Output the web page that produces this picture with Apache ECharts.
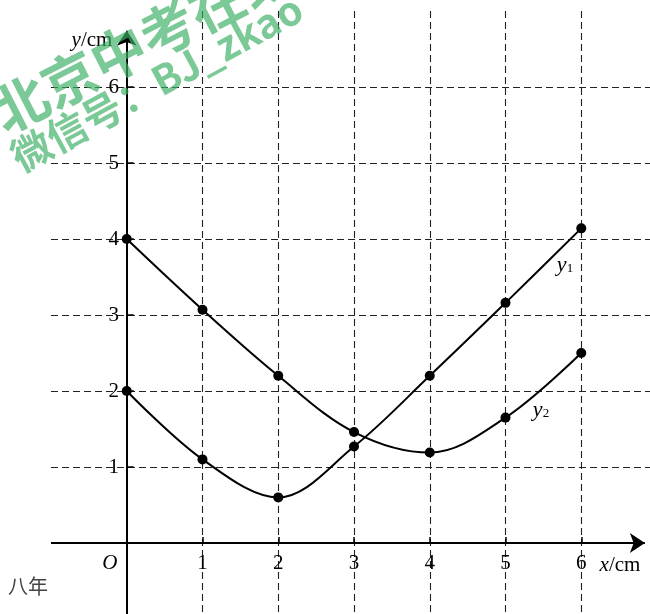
<!DOCTYPE html>
<html>
<head>
<meta charset="utf-8">
<script src="https://cdn.jsdelivr.net/npm/echarts@6/dist/echarts.min.js"></script>
<style>
html,body{margin:0;padding:0;background:#fff;}
#chart{width:650px;height:614px;}
</style>
</head>
<body>
<div id="chart"></div>
<script>
// ---- data ----
const xValues = [0, 1, 2, 3, 4, 5, 6];
const y1Values = [2, 1.1, 0.6, 1.27, 2.2, 3.16, 4.14];
const y2Values = [4, 3.07, 2.2, 1.46, 1.19, 1.65, 2.5];
const xTickLabels = [1, 2, 3, 4, 5, 6];
const yTickLabels = [1, 2, 3, 4, 5, 6];
const xRange = [-1, 7];
const yRange = [-1, 7];
const xArrowEnd = 6.84;
const yArrowEnd = 6.74;

const serif = '"Liberation Serif", "DejaVu Serif", serif';
const toPairs = (xs, ys) => xs.map((x, i) => [x, ys[i]]);

const chart = echarts.init(document.getElementById('chart'), null, {renderer: 'canvas'});

const dashed = {color: '#222', width: 1.1, type: [7, 4]};

const option = {
  animation: false,
  backgroundColor: '#fff',
  grid: {left: 51, top: 11, right: -7, bottom: -5, containLabel: false, outerBoundsMode: 'none'},
  xAxis: {
    type: 'value', min: xRange[0], max: xRange[1], interval: 1,
    axisLine: {show: true, onZero: true, lineStyle: {opacity: 0}},
    axisTick: {show: true, inside: true, length: 6, customValues: xTickLabels, lineStyle: {color: '#000', width: 1.5}},
    axisLabel: {
      show: true, customValues: [0].concat(xTickLabels), margin: -66,
      fontFamily: serif, fontSize: 21, color: '#000', verticalAlign: 'top',
      formatter: v => v === 0 ? '{o|O}' : String(v),
      rich: {o: {fontStyle: 'italic', fontFamily: serif, fontSize: 21, color: '#000', padding: [0, 34, 0, 0]}}
    },
    splitLine: {show: true, lineStyle: dashed}
  },
  yAxis: {
    type: 'value', min: yRange[0], max: yRange[1], interval: 1,
    axisLine: {show: true, onZero: true, lineStyle: {opacity: 0}},
    axisTick: {show: true, inside: true, length: 7, customValues: yTickLabels, lineStyle: {color: '#000', width: 1.5}},
    axisLabel: {
      show: true, customValues: yTickLabels, margin: -68, align: 'right',
      fontFamily: serif, fontSize: 21, color: '#000'
    },
    splitLine: {show: true, lineStyle: dashed}
  },
  series: [
    {
      name: 'y1', type: 'line', data: toPairs(xValues, y1Values), smooth: 0.35,
      symbol: 'circle', symbolSize: 10, z: 5,
      lineStyle: {color: '#000', width: 2}, itemStyle: {color: '#000'},
      markLine: {
        silent: true, animation: false, symbol: ['none', 'arrow'], symbolSize: 15,
        label: {show: false}, lineStyle: {color: '#000', width: 2, type: 'solid'},
        data: [
          [{coord: [xRange[0], 0]}, {coord: [xArrowEnd, 0]}],
          [{coord: [0, yRange[0]]}, {coord: [0, yArrowEnd]}]
        ]
      }
    },
    {
      name: 'y2', type: 'line', data: toPairs(xValues, y2Values), smooth: 0.35,
      symbol: 'circle', symbolSize: 10, z: 5,
      lineStyle: {color: '#000', width: 2}, itemStyle: {color: '#000'}
    }
  ],
  graphic: [
    {type: 'text', x: 92, y: 40, z: 50, style: {text: '{i|y}/cm', fontFamily: serif, fontSize: 21, fill: '#000', align: 'center', verticalAlign: 'middle', rich: {i: {fontStyle: 'italic', fontFamily: serif, fontSize: 21}}}},
    {type: 'text', x: 620, y: 565, z: 50, style: {text: '{i|x}/cm', fontFamily: serif, fontSize: 21, fill: '#000', align: 'center', verticalAlign: 'middle', rich: {i: {fontStyle: 'italic', fontFamily: serif, fontSize: 21}}}},
    {type: 'text', x: 565, y: 265, z: 50, style: {text: '{i|y}{s|1}', fill: '#000', align: 'center', verticalAlign: 'middle', rich: {i: {fontStyle: 'italic', fontFamily: serif, fontSize: 22, verticalAlign: 'bottom'}, s: {fontFamily: serif, fontSize: 13, padding: [8, 0, 0, 0]}}}},
    {type: 'text', x: 541, y: 410, z: 50, style: {text: '{i|y}{s|2}', fill: '#000', align: 'center', verticalAlign: 'middle', rich: {i: {fontStyle: 'italic', fontFamily: serif, fontSize: 22, verticalAlign: 'bottom'}, s: {fontFamily: serif, fontSize: 13, padding: [8, 0, 0, 0]}}}},
    {type: 'text', x: 8, y: 586, z: 50, style: {text: '八年', fontFamily: '"Noto Sans CJK SC"', fontSize: 20, fill: '#444', align: 'left', verticalAlign: 'middle'}},
    {type: 'text', x: -4, y: 116, rotation: 27 * Math.PI / 180, z: 100, style: {text: '北京中考在线', fontFamily: '"Noto Sans CJK SC"', fontWeight: 'bold', fontSize: 55, fill: 'rgba(60,175,100,0.68)', align: 'left', verticalAlign: 'middle'}},
    {type: 'text', x: 14, y: 160, rotation: 28.5 * Math.PI / 180, z: 100, style: {text: '微信号：BJ_zkao', fontFamily: '"Noto Sans CJK SC"', fontWeight: 'bold', fontSize: 40, fill: 'rgba(60,175,100,0.68)', align: 'left', verticalAlign: 'middle'}}
  ]
};
chart.setOption(option);
</script>
</body>
</html>
